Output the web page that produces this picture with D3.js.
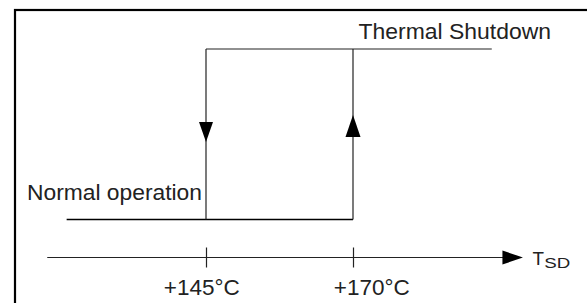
<!DOCTYPE html>
<html><head><meta charset="utf-8">
<script src="https://cdn.jsdelivr.net/npm/d3@7"></script>
<style>
html,body{margin:0;padding:0;background:#fff;}
svg{display:block;font-family:"Liberation Sans",Arial,sans-serif;}
</style></head>
<body>
<script>
// ---- data ----
const thresholds = [145, 170];               // °C, shutdown release / trip
const tickLabels = ["+145°C", "+170°C"];
const axisSpan = [118, 198.9];                // extent of the temperature axis (°C), arrow tip at end
const normalSpan = [121.3, 170];              // normal-operation level (°C)
const shutdownSpan = [145, 193.6];            // shutdown level (°C)
const states = ["Normal operation", "Thermal Shutdown"];
const axisLabel = "T";
const axisSub = "SD";

// ---- layout ----
const W = 587, H = 303;
const svg = d3.select("body").append("svg").attr("width", W).attr("height", H);

const x = d3.scaleLinear().domain(thresholds).range([206, 353]);
const y = d3.scalePoint().domain(states).range([219.5, 49]);
const axisY = 257.5;
const ink = "#222";

// frame (cropped at right & bottom)
svg.append("rect").attr("x", 15).attr("y", 10).attr("width", W + 20).attr("height", H + 20)
  .attr("fill", "none").attr("stroke", "#000").attr("stroke-width", 2.2);

// hysteresis loop
const g = svg.append("g").attr("fill", "none").attr("stroke", ink);
g.append("line").attr("x1", x(normalSpan[0])).attr("x2", x(normalSpan[1]))
  .attr("y1", y(states[0])).attr("y2", y(states[0])).attr("stroke", "#000").attr("stroke-width", 1.6);
g.append("line").attr("x1", x(shutdownSpan[0])).attr("x2", x(shutdownSpan[1]))
  .attr("y1", y(states[1])).attr("y2", y(states[1])).attr("stroke-width", 1.2);
thresholds.forEach(t => {
  g.append("line").attr("x1", x(t)).attr("x2", x(t))
    .attr("y1", y(states[1])).attr("y2", y(states[0])).attr("stroke-width", 1.2);
});

// direction arrows
function tri(cx, tipY, dir, w, h) { // dir 1 = down, -1 = up
  const baseY = tipY - dir * h;
  return `M${cx - w / 2},${baseY}L${cx + w / 2},${baseY}L${cx},${tipY}Z`;
}
svg.append("path").attr("d", tri(x(thresholds[0]), 142, 1, 14, 20)).attr("fill", "#000");
svg.append("path").attr("d", tri(x(thresholds[1]), 115, -1, 15, 22)).attr("fill", "#000");

// temperature axis
const axis = d3.axisBottom(x).tickValues(thresholds).tickFormat((d, i) => tickLabels[i]).tickSizeOuter(0);
const ag = svg.append("g").attr("transform", `translate(0,${axisY})`).call(axis);
ag.select(".domain").remove();
ag.selectAll(".tick line").attr("y1", -10).attr("y2", 10).attr("stroke", ink).attr("stroke-width", 1.2);
const labelDx = [-4.7, 18.3];
ag.selectAll(".tick text")
  .attr("y", 37.5).attr("dy", 0).attr("dx", (d, i) => labelDx[i])
  .attr("fill", ink).attr("font-size", 22).attr("font-family", "'Liberation Sans',Arial,sans-serif")
  .attr("textLength", 76).attr("lengthAdjust", "spacingAndGlyphs");
const tipX = x(axisSpan[1]), headLen = 20.5;
svg.append("line").attr("x1", x(axisSpan[0])).attr("x2", tipX - headLen + 1)
  .attr("y1", axisY).attr("y2", axisY).attr("stroke", ink).attr("stroke-width", 1.2);
svg.append("path").attr("d", `M${tipX},${axisY}L${tipX - headLen},${axisY - 7}L${tipX - headLen},${axisY + 7}Z`).attr("fill", "#000");

// axis label T_SD
const tl = svg.append("text").attr("x", 532.5).attr("y", 265).attr("fill", ink);
tl.append("tspan").attr("font-size", 18).attr("textLength", 11.5).attr("lengthAdjust", "spacingAndGlyphs").text(axisLabel);
tl.append("tspan").attr("font-size", 15).attr("dy", 3.3).attr("dx", 0.3)
  .attr("textLength", 26).attr("lengthAdjust", "spacingAndGlyphs").text(axisSub);

// state labels
svg.append("text").attr("x", 27).attr("y", 200).attr("fill", ink).attr("font-size", 22)
  .attr("textLength", 175).attr("lengthAdjust", "spacingAndGlyphs").text(states[0]);
svg.append("text").attr("x", 358.5).attr("y", 38.5).attr("fill", ink).attr("font-size", 22)
  .attr("textLength", 192.5).attr("lengthAdjust", "spacingAndGlyphs").text(states[1]);
</script>
</body></html>
